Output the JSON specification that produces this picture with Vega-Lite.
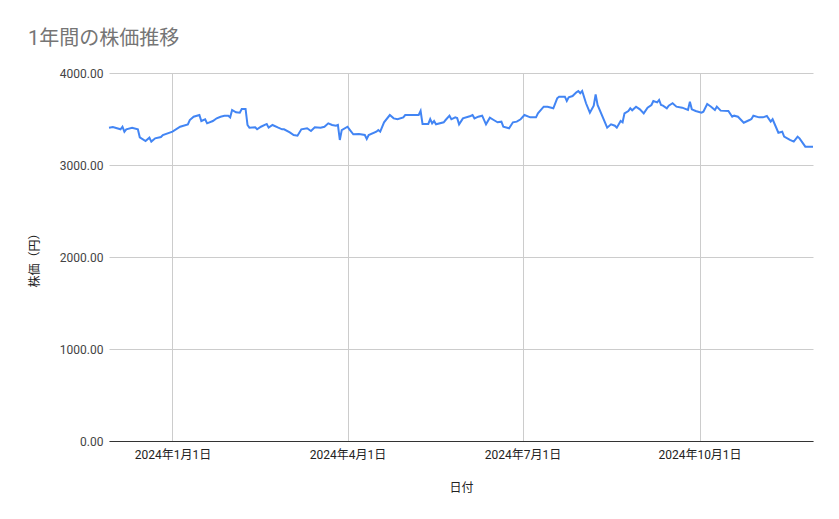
{
  "$schema": "https://vega.github.io/schema/vega-lite/v6.json",
  "width": 704,
  "height": 368,
  "autosize": {"type": "none"},
  "padding": {"left": 109, "top": 73, "right": 26, "bottom": 78},
  "background": "white",
  "title": {
    "text": "1年間の株価推移",
    "anchor": "start",
    "frame": "group",
    "dx": -81,
    "offset": 18,
    "fontSize": 20,
    "fontWeight": "normal",
    "color": "#757575",
    "font": "Roboto, 'Noto Sans CJK JP', sans-serif"
  },
  "config": {
    "view": {"stroke": null},
    "font": "Roboto, 'Noto Sans CJK JP', sans-serif"
  },
  "data": {
    "format": {"parse": {"date": "date:'%Y-%m-%d'"}},
    "values": [
      {"date": "2023-11-29", "price": 3405},
      {"date": "2023-12-01", "price": 3413},
      {"date": "2023-12-05", "price": 3388},
      {"date": "2023-12-06", "price": 3416},
      {"date": "2023-12-07", "price": 3362},
      {"date": "2023-12-08", "price": 3388},
      {"date": "2023-12-11", "price": 3405},
      {"date": "2023-12-14", "price": 3388},
      {"date": "2023-12-15", "price": 3301},
      {"date": "2023-12-18", "price": 3261},
      {"date": "2023-12-20", "price": 3297},
      {"date": "2023-12-21", "price": 3254},
      {"date": "2023-12-23", "price": 3290},
      {"date": "2023-12-26", "price": 3304},
      {"date": "2023-12-27", "price": 3326},
      {"date": "2024-01-01", "price": 3362},
      {"date": "2024-01-05", "price": 3416},
      {"date": "2024-01-09", "price": 3442},
      {"date": "2024-01-10", "price": 3489},
      {"date": "2024-01-12", "price": 3525},
      {"date": "2024-01-15", "price": 3543},
      {"date": "2024-01-16", "price": 3478},
      {"date": "2024-01-18", "price": 3497},
      {"date": "2024-01-19", "price": 3453},
      {"date": "2024-01-22", "price": 3478},
      {"date": "2024-01-24", "price": 3508},
      {"date": "2024-01-26", "price": 3525},
      {"date": "2024-01-28", "price": 3535},
      {"date": "2024-01-30", "price": 3536},
      {"date": "2024-01-31", "price": 3518},
      {"date": "2024-02-01", "price": 3598},
      {"date": "2024-02-03", "price": 3573},
      {"date": "2024-02-05", "price": 3569},
      {"date": "2024-02-06", "price": 3609},
      {"date": "2024-02-08", "price": 3609},
      {"date": "2024-02-09", "price": 3435},
      {"date": "2024-02-10", "price": 3406},
      {"date": "2024-02-13", "price": 3409},
      {"date": "2024-02-14", "price": 3388},
      {"date": "2024-02-16", "price": 3416},
      {"date": "2024-02-19", "price": 3446},
      {"date": "2024-02-20", "price": 3406},
      {"date": "2024-02-22", "price": 3435},
      {"date": "2024-02-25", "price": 3406},
      {"date": "2024-02-27", "price": 3388},
      {"date": "2024-02-28", "price": 3388},
      {"date": "2024-03-02", "price": 3355},
      {"date": "2024-03-04", "price": 3326},
      {"date": "2024-03-06", "price": 3318},
      {"date": "2024-03-08", "price": 3388},
      {"date": "2024-03-11", "price": 3399},
      {"date": "2024-03-13", "price": 3370},
      {"date": "2024-03-15", "price": 3409},
      {"date": "2024-03-18", "price": 3406},
      {"date": "2024-03-20", "price": 3416},
      {"date": "2024-03-22", "price": 3453},
      {"date": "2024-03-24", "price": 3435},
      {"date": "2024-03-26", "price": 3427},
      {"date": "2024-03-27", "price": 3435},
      {"date": "2024-03-28", "price": 3272},
      {"date": "2024-03-29", "price": 3380},
      {"date": "2024-04-01", "price": 3416},
      {"date": "2024-04-02", "price": 3388},
      {"date": "2024-04-04", "price": 3334},
      {"date": "2024-04-07", "price": 3337},
      {"date": "2024-04-10", "price": 3326},
      {"date": "2024-04-11", "price": 3283},
      {"date": "2024-04-12", "price": 3326},
      {"date": "2024-04-16", "price": 3362},
      {"date": "2024-04-17", "price": 3380},
      {"date": "2024-04-18", "price": 3362},
      {"date": "2024-04-20", "price": 3464},
      {"date": "2024-04-23", "price": 3543},
      {"date": "2024-04-25", "price": 3507},
      {"date": "2024-04-27", "price": 3497},
      {"date": "2024-04-30", "price": 3518},
      {"date": "2024-05-01", "price": 3543},
      {"date": "2024-05-08", "price": 3543},
      {"date": "2024-05-09", "price": 3587},
      {"date": "2024-05-10", "price": 3446},
      {"date": "2024-05-13", "price": 3446},
      {"date": "2024-05-14", "price": 3500},
      {"date": "2024-05-15", "price": 3453},
      {"date": "2024-05-16", "price": 3478},
      {"date": "2024-05-17", "price": 3442},
      {"date": "2024-05-21", "price": 3464},
      {"date": "2024-05-22", "price": 3489},
      {"date": "2024-05-24", "price": 3536},
      {"date": "2024-05-25", "price": 3497},
      {"date": "2024-05-27", "price": 3518},
      {"date": "2024-05-28", "price": 3510},
      {"date": "2024-05-29", "price": 3442},
      {"date": "2024-05-31", "price": 3507},
      {"date": "2024-06-04", "price": 3533},
      {"date": "2024-06-05", "price": 3543},
      {"date": "2024-06-06", "price": 3507},
      {"date": "2024-06-08", "price": 3525},
      {"date": "2024-06-10", "price": 3536},
      {"date": "2024-06-12", "price": 3442},
      {"date": "2024-06-14", "price": 3514},
      {"date": "2024-06-16", "price": 3489},
      {"date": "2024-06-18", "price": 3464},
      {"date": "2024-06-20", "price": 3471},
      {"date": "2024-06-21", "price": 3416},
      {"date": "2024-06-24", "price": 3399},
      {"date": "2024-06-26", "price": 3464},
      {"date": "2024-06-28", "price": 3471},
      {"date": "2024-06-30", "price": 3497},
      {"date": "2024-07-02", "price": 3543},
      {"date": "2024-07-05", "price": 3518},
      {"date": "2024-07-08", "price": 3518},
      {"date": "2024-07-09", "price": 3561},
      {"date": "2024-07-12", "price": 3634},
      {"date": "2024-07-14", "price": 3634},
      {"date": "2024-07-17", "price": 3616},
      {"date": "2024-07-19", "price": 3725},
      {"date": "2024-07-20", "price": 3743},
      {"date": "2024-07-23", "price": 3743},
      {"date": "2024-07-24", "price": 3696},
      {"date": "2024-07-25", "price": 3736},
      {"date": "2024-07-27", "price": 3750},
      {"date": "2024-07-29", "price": 3790},
      {"date": "2024-07-30", "price": 3804},
      {"date": "2024-07-31", "price": 3780},
      {"date": "2024-08-01", "price": 3804},
      {"date": "2024-08-03", "price": 3671},
      {"date": "2024-08-05", "price": 3569},
      {"date": "2024-08-07", "price": 3645},
      {"date": "2024-08-08", "price": 3768},
      {"date": "2024-08-09", "price": 3652},
      {"date": "2024-08-14", "price": 3406},
      {"date": "2024-08-16", "price": 3442},
      {"date": "2024-08-18", "price": 3427},
      {"date": "2024-08-19", "price": 3406},
      {"date": "2024-08-21", "price": 3478},
      {"date": "2024-08-22", "price": 3464},
      {"date": "2024-08-23", "price": 3561},
      {"date": "2024-08-25", "price": 3587},
      {"date": "2024-08-26", "price": 3616},
      {"date": "2024-08-27", "price": 3595},
      {"date": "2024-08-29", "price": 3634},
      {"date": "2024-08-31", "price": 3605},
      {"date": "2024-09-02", "price": 3561},
      {"date": "2024-09-04", "price": 3623},
      {"date": "2024-09-06", "price": 3652},
      {"date": "2024-09-07", "price": 3696},
      {"date": "2024-09-09", "price": 3681},
      {"date": "2024-09-10", "price": 3707},
      {"date": "2024-09-11", "price": 3652},
      {"date": "2024-09-12", "price": 3645},
      {"date": "2024-09-14", "price": 3616},
      {"date": "2024-09-15", "price": 3645},
      {"date": "2024-09-17", "price": 3671},
      {"date": "2024-09-19", "price": 3634},
      {"date": "2024-09-22", "price": 3623},
      {"date": "2024-09-25", "price": 3598},
      {"date": "2024-09-26", "price": 3688},
      {"date": "2024-09-27", "price": 3605},
      {"date": "2024-09-29", "price": 3587},
      {"date": "2024-10-02", "price": 3569},
      {"date": "2024-10-03", "price": 3580},
      {"date": "2024-10-05", "price": 3663},
      {"date": "2024-10-07", "price": 3634},
      {"date": "2024-10-09", "price": 3598},
      {"date": "2024-10-10", "price": 3634},
      {"date": "2024-10-12", "price": 3591},
      {"date": "2024-10-16", "price": 3587},
      {"date": "2024-10-18", "price": 3525},
      {"date": "2024-10-19", "price": 3536},
      {"date": "2024-10-21", "price": 3525},
      {"date": "2024-10-24", "price": 3460},
      {"date": "2024-10-27", "price": 3489},
      {"date": "2024-10-28", "price": 3500},
      {"date": "2024-10-29", "price": 3536},
      {"date": "2024-11-01", "price": 3518},
      {"date": "2024-11-03", "price": 3518},
      {"date": "2024-11-05", "price": 3533},
      {"date": "2024-11-07", "price": 3471},
      {"date": "2024-11-08", "price": 3497},
      {"date": "2024-11-11", "price": 3351},
      {"date": "2024-11-13", "price": 3362},
      {"date": "2024-11-14", "price": 3308},
      {"date": "2024-11-17", "price": 3272},
      {"date": "2024-11-19", "price": 3254},
      {"date": "2024-11-21", "price": 3308},
      {"date": "2024-11-22", "price": 3290},
      {"date": "2024-11-25", "price": 3199},
      {"date": "2024-11-29", "price": 3199}
    ]
  },
  "mark": {"type": "line", "color": "#4285F4", "strokeWidth": 2},
  "encoding": {
    "x": {
      "field": "date",
      "type": "temporal",
      "title": "日付",
      "scale": {"nice": false, "padding": 0},
      "axis": {
        "values": [
          {"year": 2024, "month": 1, "date": 1},
          {"year": 2024, "month": 4, "date": 1},
          {"year": 2024, "month": 7, "date": 1},
          {"year": 2024, "month": 10, "date": 1}
        ],
        "format": "%Y年%-m月%-d日",
        "formatType": "time",
        "grid": true,
        "gridColor": "#cccccc",
        "gridWidth": 1,
        "ticks": false,
        "domain": true,
        "domainColor": "#333333",
        "domainWidth": 1,
        "labelFontSize": 12,
        "labelColor": "#222222",
        "labelPadding": 8,
        "labelFlush": false,
        "labelOverlap": false,
        "titleFontSize": 12,
        "titleFontWeight": "normal",
        "titleColor": "#222222",
        "titlePadding": 22
      }
    },
    "y": {
      "field": "price",
      "type": "quantitative",
      "title": "株価（円）",
      "scale": {"domain": [0, 4000], "nice": false, "zero": true},
      "axis": {
        "values": [0, 1000, 2000, 3000, 4000],
        "format": ".2f",
        "grid": true,
        "gridColor": "#cccccc",
        "gridWidth": 1,
        "ticks": false,
        "domain": false,
        "labelFontSize": 12,
        "labelColor": "#444444",
        "labelPadding": 6,
        "titleFontSize": 12,
        "titleFontWeight": "normal",
        "titleColor": "#222222",
        "titlePadding": 18
      }
    }
  }
}
